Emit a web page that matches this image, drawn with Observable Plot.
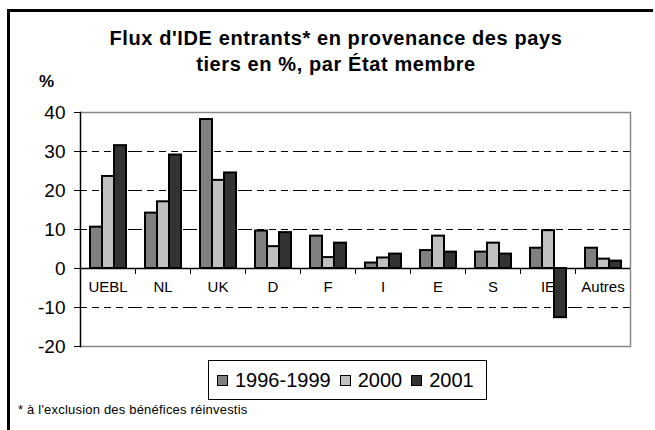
<!DOCTYPE html>
<html>
<head>
<meta charset="utf-8">
<script src="https://cdn.jsdelivr.net/npm/d3@7"></script>
<script src="https://cdn.jsdelivr.net/npm/@observablehq/plot@0.6"></script>
<style>
  html, body { margin: 0; padding: 0; background: white; }
  #wrap { position: relative; width: 655px; height: 430px; overflow: hidden; background: white; font-family: "Liberation Sans", Arial, sans-serif; color: black; }
  #border { position: absolute; left: 7px; top: 9px; width: 646px; height: 440px; border-top: 3px solid black; border-left: 3px solid black; box-sizing: border-box; }
  #title { position: absolute; left: 0; top: 25px; width: 672px; text-align: center; font-weight: bold; font-size: 20px; letter-spacing: 0.6px; line-height: 26px; }
  #unit { position: absolute; left: 39px; top: 73px; font-weight: bold; font-size: 17px; line-height: 17px; }
  #chart { position: absolute; left: 0; top: 0; }
  #legend { position: absolute; left: 208px; top: 360px; width: 279px; height: 40px; box-sizing: border-box; border: 1px solid black; display: flex; align-items: center; padding-left: 8px; font-size: 20px; }
  #legend .sw { width: 11px; height: 11px; border: 1px solid black; margin-right: 7px; box-sizing: border-box; }
  #legend .lb { margin-right: 9px; }
  #note { position: absolute; left: 18px; top: 402px; font-size: 13px; line-height: 16px; letter-spacing: 0.2px; }
</style>
</head>
<body>
<div id="wrap">
  <div id="border"></div>
  <div id="chart"></div>
  <div id="title">Flux d'IDE entrants* en provenance des pays<br>tiers en %, par État membre</div>
  <div id="unit">%</div>
  <div id="legend"></div>
  <div id="note">* à l'exclusion des bénéfices réinvestis</div>
</div>
<script>
const categories = ["UEBL", "NL", "UK", "D", "F", "I", "E", "S", "IE", "Autres"];
const seriesNames = ["1996-1999", "2000", "2001"];
const v1996_1999 = [10.6, 14.2, 38.2, 9.6, 8.3, 1.4, 4.6, 4.2, 5.2, 5.2];
const v2000 = [23.6, 17.1, 22.6, 5.6, 2.8, 2.7, 8.3, 6.5, 9.7, 2.4];
const v2001 = [31.5, 29.1, 24.5, 9.2, 6.5, 3.7, 4.2, 3.7, -12.6, 1.9];
const seriesColors = ["#808080", "#c0c0c0", "#333333"];
const yTicks = [-20, -10, 0, 10, 20, 30, 40];
const gridValues = [-10, 10, 20, 30];
const borderValues = [-20, 40];

const seriesValues = [v1996_1999, v2000, v2001];
const data = [];
categories.forEach((c, i) => {
  seriesNames.forEach((s, k) => data.push({cat: c, series: s, value: seriesValues[k][i]}));
});

const FONT = '"Liberation Sans", Arial, sans-serif';

const plot = Plot.plot({
  width: 655,
  height: 430,
  marginLeft: 76,
  marginRight: 21,
  marginTop: 112,
  marginBottom: 84,
  style: {fontFamily: FONT, fontSize: "15px", color: "black", background: "transparent", overflow: "visible"},
  fx: {domain: categories, padding: 0, axis: null},
  x: {domain: seriesNames, paddingInner: 0, paddingOuter: 0.7, axis: null},
  y: {domain: [-20, 40], axis: null},
  color: {domain: seriesNames, range: seriesColors},
  marks: [
    Plot.ruleY(gridValues, {stroke: "black", strokeWidth: 1, strokeDasharray: "7,5"}),
    Plot.ruleY(borderValues, {stroke: "#888888", strokeWidth: 1.5}),
    Plot.frame({anchor: "right", facetAnchor: "right", stroke: "#888888", strokeWidth: 1.5}),
    Plot.text(categories, {fx: d => d, y: () => 0, text: d => d, dy: 18.5, fontSize: 15, fill: "black", style: "letter-spacing: 0.5px"}),
    Plot.ruleY([0], {stroke: "black", strokeWidth: 1.5}),
    Plot.barY(data, {fx: "cat", x: "series", y: "value", fill: "series", stroke: "black", strokeWidth: 2}),
    Plot.vector([0], {y: d => d, frameAnchor: "left", length: 5, rotate: 180, anchor: "start", stroke: "black", strokeWidth: 1,
      shape: {draw(context, l) { context.moveTo(0, 0); context.lineTo(0, -l); }}}),
    Plot.frame({anchor: "left", facetAnchor: "left", stroke: "black", strokeWidth: 1.5}),
    Plot.axisY({ticks: yTicks, tickSize: 6, tickPadding: 9, fontSize: 19, label: null, tickFormat: d => String(d), stroke: "black", fill: "black"})
  ]
});
document.getElementById("chart").appendChild(plot);

const legend = document.getElementById("legend");
seriesNames.forEach((s, k) => {
  const sw = document.createElement("div");
  sw.className = "sw";
  sw.style.background = seriesColors[k];
  const lb = document.createElement("span");
  lb.className = "lb";
  lb.textContent = s;
  legend.appendChild(sw);
  legend.appendChild(lb);
});
</script>
</body>
</html>
